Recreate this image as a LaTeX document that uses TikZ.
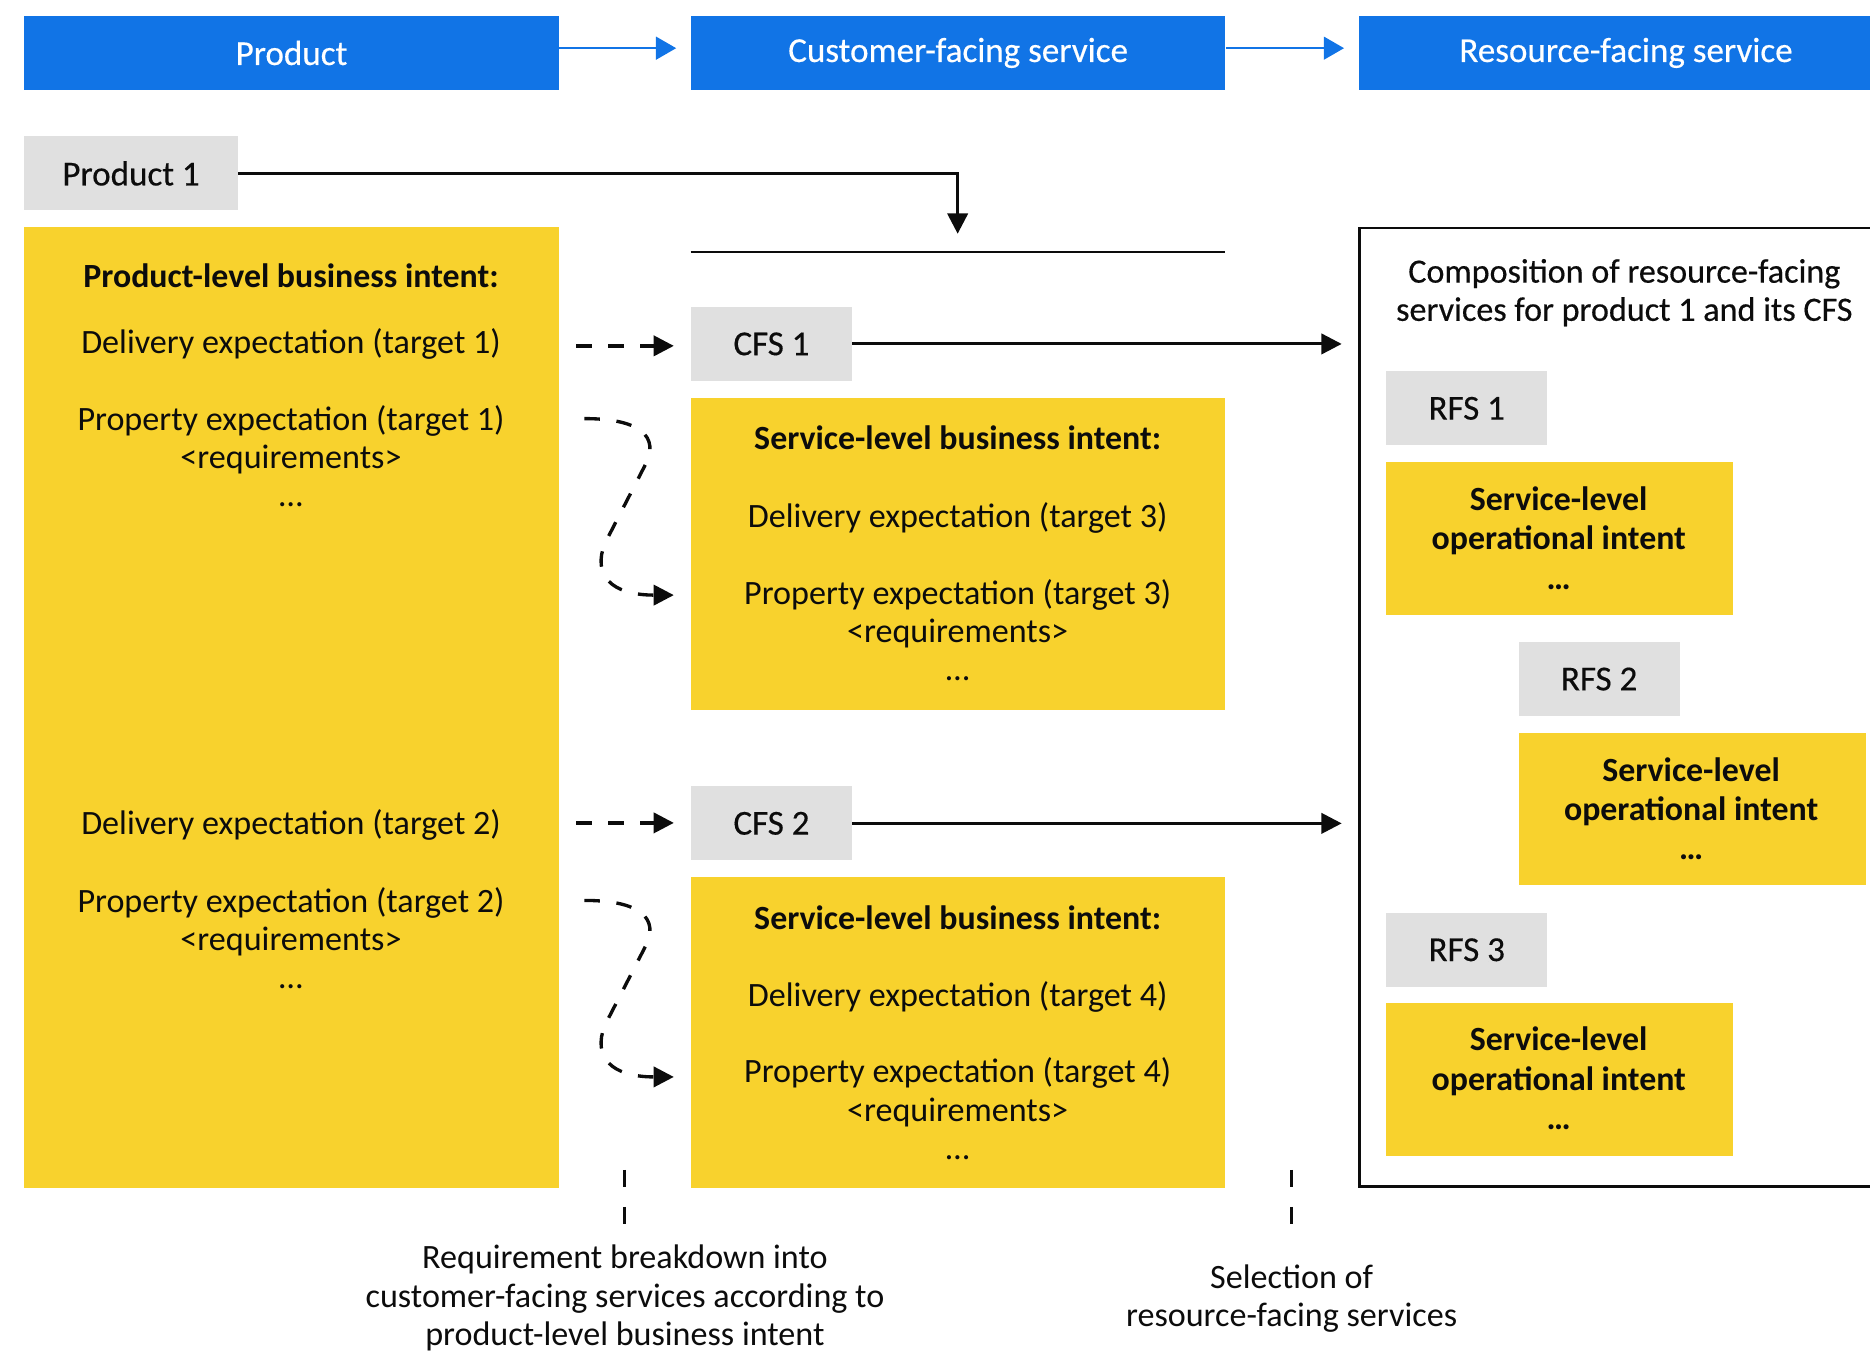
\documentclass[tikz,border=0pt]{standalone}
\usepackage{fontspec}
\setmainfont{Carlito}
\newfontfamily\medfont[FakeBold=0.4]{Carlito}
\usetikzlibrary{arrows.meta}
\definecolor{eblue}{HTML}{1174E6}
\definecolor{eyellow}{HTML}{F8D22D}
\definecolor{egray}{HTML}{E0E0E0}
\definecolor{ink}{HTML}{0C0C0C}
\begin{document}
\begin{tikzpicture}[x=0.5pt,y=-0.5pt,
  font=\fontsize{14.3}{16}\selectfont, text=ink,
  hdr/.style={fill=eblue,text=white,minimum width=224pt,minimum height=31pt,inner sep=0,anchor=north west,font=\medfont\fontsize{14.7}{16}\selectfont},
  gbox/.style={fill=egray,minimum height=31pt,inner sep=0,anchor=north west,font=\medfont\fontsize{14.7}{16}\selectfont},
  ybox/.style={fill=eyellow,inner sep=0,anchor=north west},
  tx/.style={align=center,inner sep=0,anchor=base},
  bftx/.style={tx,font=\bfseries\fontsize{14.2}{16}\selectfont},
  optx/.style={tx,font=\bfseries\fontsize{14.2}{16.5}\selectfont},
  medtx/.style={tx,font=\medfont\fontsize{14.3}{16}\selectfont},
  arr/.style={draw=ink,line width=1.3pt,-{Triangle[length=8.5pt,width=8.5pt]}},
  barr/.style={draw=eblue,line width=1.1pt,-{Triangle[length=8.5pt,width=9.5pt]}},
  darr/.style={draw=ink,line width=1.4pt,dash pattern=on 6.5pt off 7pt,-{Triangle[length=8.5pt,width=8.5pt]}},
  vdash/.style={draw=ink,line width=1.3pt,dash pattern=on 7pt off 8.5pt}
]
\useasboundingbox (0,0) rectangle (1568,1134);
\clip (0,0) rectangle (1568,1134);

% headers
\node[hdr] (hp) at (20,13) {Product};
\node[hdr] (hc) at (579,13) {Customer-facing service};
\node[hdr] (hr) at (1139,13) {Resource-facing service};
\draw[barr,shorten >=6pt] ([yshift=2pt]hp.east) -- ([yshift=2pt]hc.west);
\draw[barr,shorten >=6pt] ([yshift=2pt]hc.east) -- ([yshift=2pt]hr.west);

% product 1
\node[gbox,minimum width=89.5pt] (p1) at (20,114) {Product 1};
\coordinate (cl1) at (579,211);
\coordinate (cl2) at (1027,211);
\coordinate (clm) at (803,211);
\draw[ink,line width=0.8pt] (cl1) -- (cl2);
\draw[arr,shorten >=7.5pt] (p1.east) -| (clm);

% product-level business intent (base anchor = last line's baseline)
\node[ybox,minimum width=224pt,minimum height=403pt] (pb) at (20,190) {};
\node[bftx] (pbt) at (244,241) {Product-level business intent:};
\node[tx] (d1) at (244,296) {Delivery expectation (target 1)};
\node[tx] (pr1) at (244,425) {Property expectation (target 1)\\<requirements>\\…};
\node[tx] (d2) at (244,700) {Delivery expectation (target 2)};
\node[tx] (pr2) at (244,829) {Property expectation (target 2)\\<requirements>\\…};

% CFS 1
\node[gbox,minimum width=67.5pt] (cfs1) at (579,257) {CFS 1};
\node[ybox,minimum width=224pt,minimum height=131pt] (sb1) at (579,333) {};
\node[bftx] (sb1t) at (803,377) {Service-level business intent:};
\node[tx] (d3) at (803,442) {Delivery expectation (target 3)};
\node[tx] (pr3) at (803,571) {Property expectation (target 3)\\<requirements>\\…};

% CFS 2
\node[gbox,minimum width=67.5pt] (cfs2) at (579,659) {CFS 2};
\node[ybox,minimum width=224pt,minimum height=130.5pt] (sb2) at (579,735) {};
\node[bftx] (sb2t) at (803,779) {Service-level business intent:};
\node[tx] (d4) at (803,844) {Delivery expectation (target 4)};
\node[tx] (pr4) at (803,972) {Property expectation (target 4)\\<requirements>\\…};

% dashed arrows
\coordinate (d1s) at (483,290);
\coordinate (d2s) at (483,690);
\draw[darr,shorten >=7pt] (d1s) -- (d1s -| cfs1.west);
\draw[darr,shorten >=7pt] (d2s) -- (d2s -| cfs2.west);
\coordinate (c1s) at (490,351);
\coordinate (c1e) at (565,499);
\coordinate (c2s) at (490,755);
\coordinate (c2e) at (565,903);
\draw[darr] (c1s) .. controls (530,351) and (552,362) .. (543,386) -- (507,456) .. controls (497,482) and (512,499) .. (c1e);
\draw[darr] (c2s) .. controls (530,755) and (552,766) .. (543,790) -- (507,860) .. controls (497,886) and (512,903) .. (c2e);

% resource-facing group
\node[draw=ink,line width=1.2pt,anchor=north west,minimum width=221pt,minimum height=402pt,inner sep=0] (grp) at (1139,190) {};
\node[medtx] (grpt) at (1362,269) {Composition of resource-facing\\services for product 1 and its CFS};
\draw[arr,shorten >=7pt] (cfs1.east) -- (cfs1.east -| grp.west);
\draw[arr,shorten >=7pt] (cfs2.east) -- (cfs2.east -| grp.west);

\node[gbox,minimum width=67.5pt] (rfs1) at (1162,311) {RFS 1};
\node[ybox,minimum width=145.5pt,minimum height=64pt] (o1) at (1162,387) {};
\node[optx] (o1t) at (1307,494) {Service-level\\operational intent\\…};

\node[gbox,minimum width=67.5pt] (rfs2) at (1273,538) {RFS 2};
\node[ybox,minimum width=145.5pt,minimum height=64pt] (o2) at (1273,614) {};
\node[optx] (o2t) at (1418,721) {Service-level\\operational intent\\…};

\node[gbox,minimum width=67.5pt] (rfs3) at (1162,765) {RFS 3};
\node[ybox,minimum width=145.5pt,minimum height=64pt] (o3) at (1162,841) {};
\node[optx] (o3t) at (1307,947) {Service-level\\operational intent\\…};

% bottom notes
\node[tx] (req) at (524,1128) {Requirement breakdown into\\customer-facing services according to\\product-level business intent};
\node[tx] (sel) at (1083,1112) {Selection of\\resource-facing services};
\coordinate (v1a) at (524,981);
\coordinate (v1b) at (524,1027);
\coordinate (v2a) at (1083,981);
\coordinate (v2b) at (1083,1027);
\draw[vdash] (v1a) -- (v1b);
\draw[vdash] (v2a) -- (v2b);
\end{tikzpicture}
\end{document}
